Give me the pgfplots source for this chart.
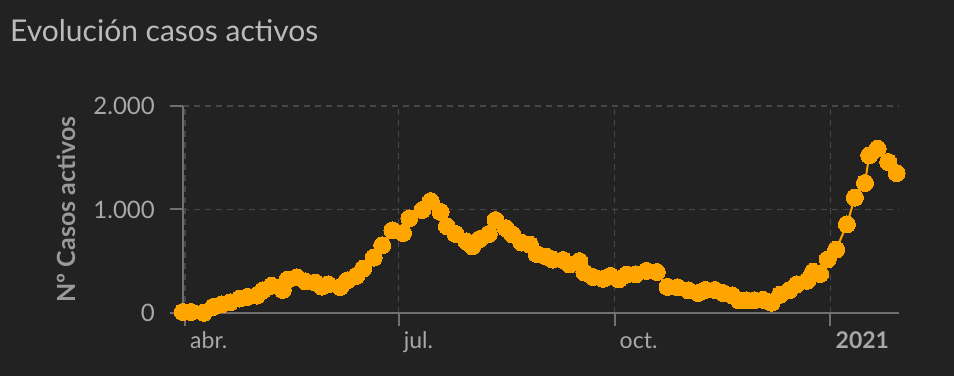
\documentclass[border=0pt]{standalone}
\usepackage{pgfplots}
\pgfplotsset{compat=1.18}
\usepackage{fontspec}
\setmainfont{Lato}
\definecolor{bg}{HTML}{222222}
\definecolor{titlec}{HTML}{BBBBBB}
\definecolor{tickc}{HTML}{A8A8A8}
\definecolor{labc}{HTML}{9A9A9A}
\definecolor{axc}{HTML}{707070}
\definecolor{gridc}{HTML}{474747}
\definecolor{orangec}{HTML}{FFA500}
\pgfplotstableread{
d v
-0.9 10
2.6 10
8.0 2
12.0 58
15.6 84
19.2 103
23.4 140
26.6 155
30.5 168
33.2 219
36.9 263
41.7 223
43.6 321
47.6 345
51.3 306
55.6 292
58.3 255
61.0 277
66.1 251
69.2 316
73.0 359
75.9 429
80.4 535
84.0 654
88.4 799
92.9 773
95.6 915
101.1 995
104.7 1081
108.9 976
111.6 838
115.3 764
119.9 691
122.4 644
125.5 714
129.4 763
132.3 898
136.7 820
139.6 758
143.4 681
147.0 659
149.8 570
153.9 544
156.7 516
161.1 512
163.8 469
168.0 501
170.2 391
173.9 348
178.2 330
181.3 358
184.8 324
188.1 371
192.0 374
196.6 407
201.0 396
205.6 252
209.9 248
214.5 219
218.7 193
221.8 223
225.8 222
229.4 193
233.1 171
236.0 123
239.2 123
242.6 123
246.3 127
249.9 99
253.5 176
257.4 219
260.6 277
265.1 311
267.6 398
270.6 377
273.8 519
277.4 612
282.0 857
285.4 1115
289.7 1256
291.5 1523
295.1 1588
299.6 1459
303.2 1352
}\casos
\begin{document}
\begin{tikzpicture}
\fill[bg] (0,0) rectangle (954bp,376bp);
\node[anchor=base west, text=titlec, inner sep=0pt, font=\fontsize{30bp}{35bp}\selectfont] at (10bp,334bp) {Evolución casos activos};
\begin{axis}[
  at={(183bp,63bp)}, anchor=south west,
  scale only axis, width=716bp, height=207bp,
  xmin=-0.85, xmax=304.2, ymin=0, ymax=2000,
  axis lines*=left,
  axis line style={color=axc, line width=2bp},
  xtick={0,91,183,275},
  xticklabels={abr., jul., oct., \textbf{2021}},
  ytick={0,1000,2000},
  yticklabels={0, 1.000, 2.000},
  tick align=outside,
  major tick length=13bp,
  tick style={color=axc, line width=2bp},
  grid=major,
  major grid style={color=gridc, line width=1.2bp, dash pattern=on 6bp off 5bp},
  xticklabel style={anchor=base west, text=tickc, font=\fontsize{23bp}{27bp}\selectfont, inner sep=0pt, xshift=5bp, yshift=-22bp},
  yticklabel style={anchor=east, text=tickc, font=\fontsize{24bp}{28bp}\selectfont, inner sep=0pt, xshift=-15bp},
  ylabel={Nº Casos activos},
  every axis y label/.style={at={(axis description cs:0,0.5)}, xshift=-117bp, rotate=90, anchor=center, text=labc, font=\fontsize{25bp}{29bp}\selectfont\bfseries},
  clip=false,
]
\addplot[color=orangec, line width=2bp, mark=*, mark size=8.5bp, mark options={fill=orangec, draw=orangec, line width=0pt}] table[x=d, y=v] {\casos};
\end{axis}
\pgfresetboundingbox
\path (0,0) rectangle (954bp,376bp);
\end{tikzpicture}
\end{document}
